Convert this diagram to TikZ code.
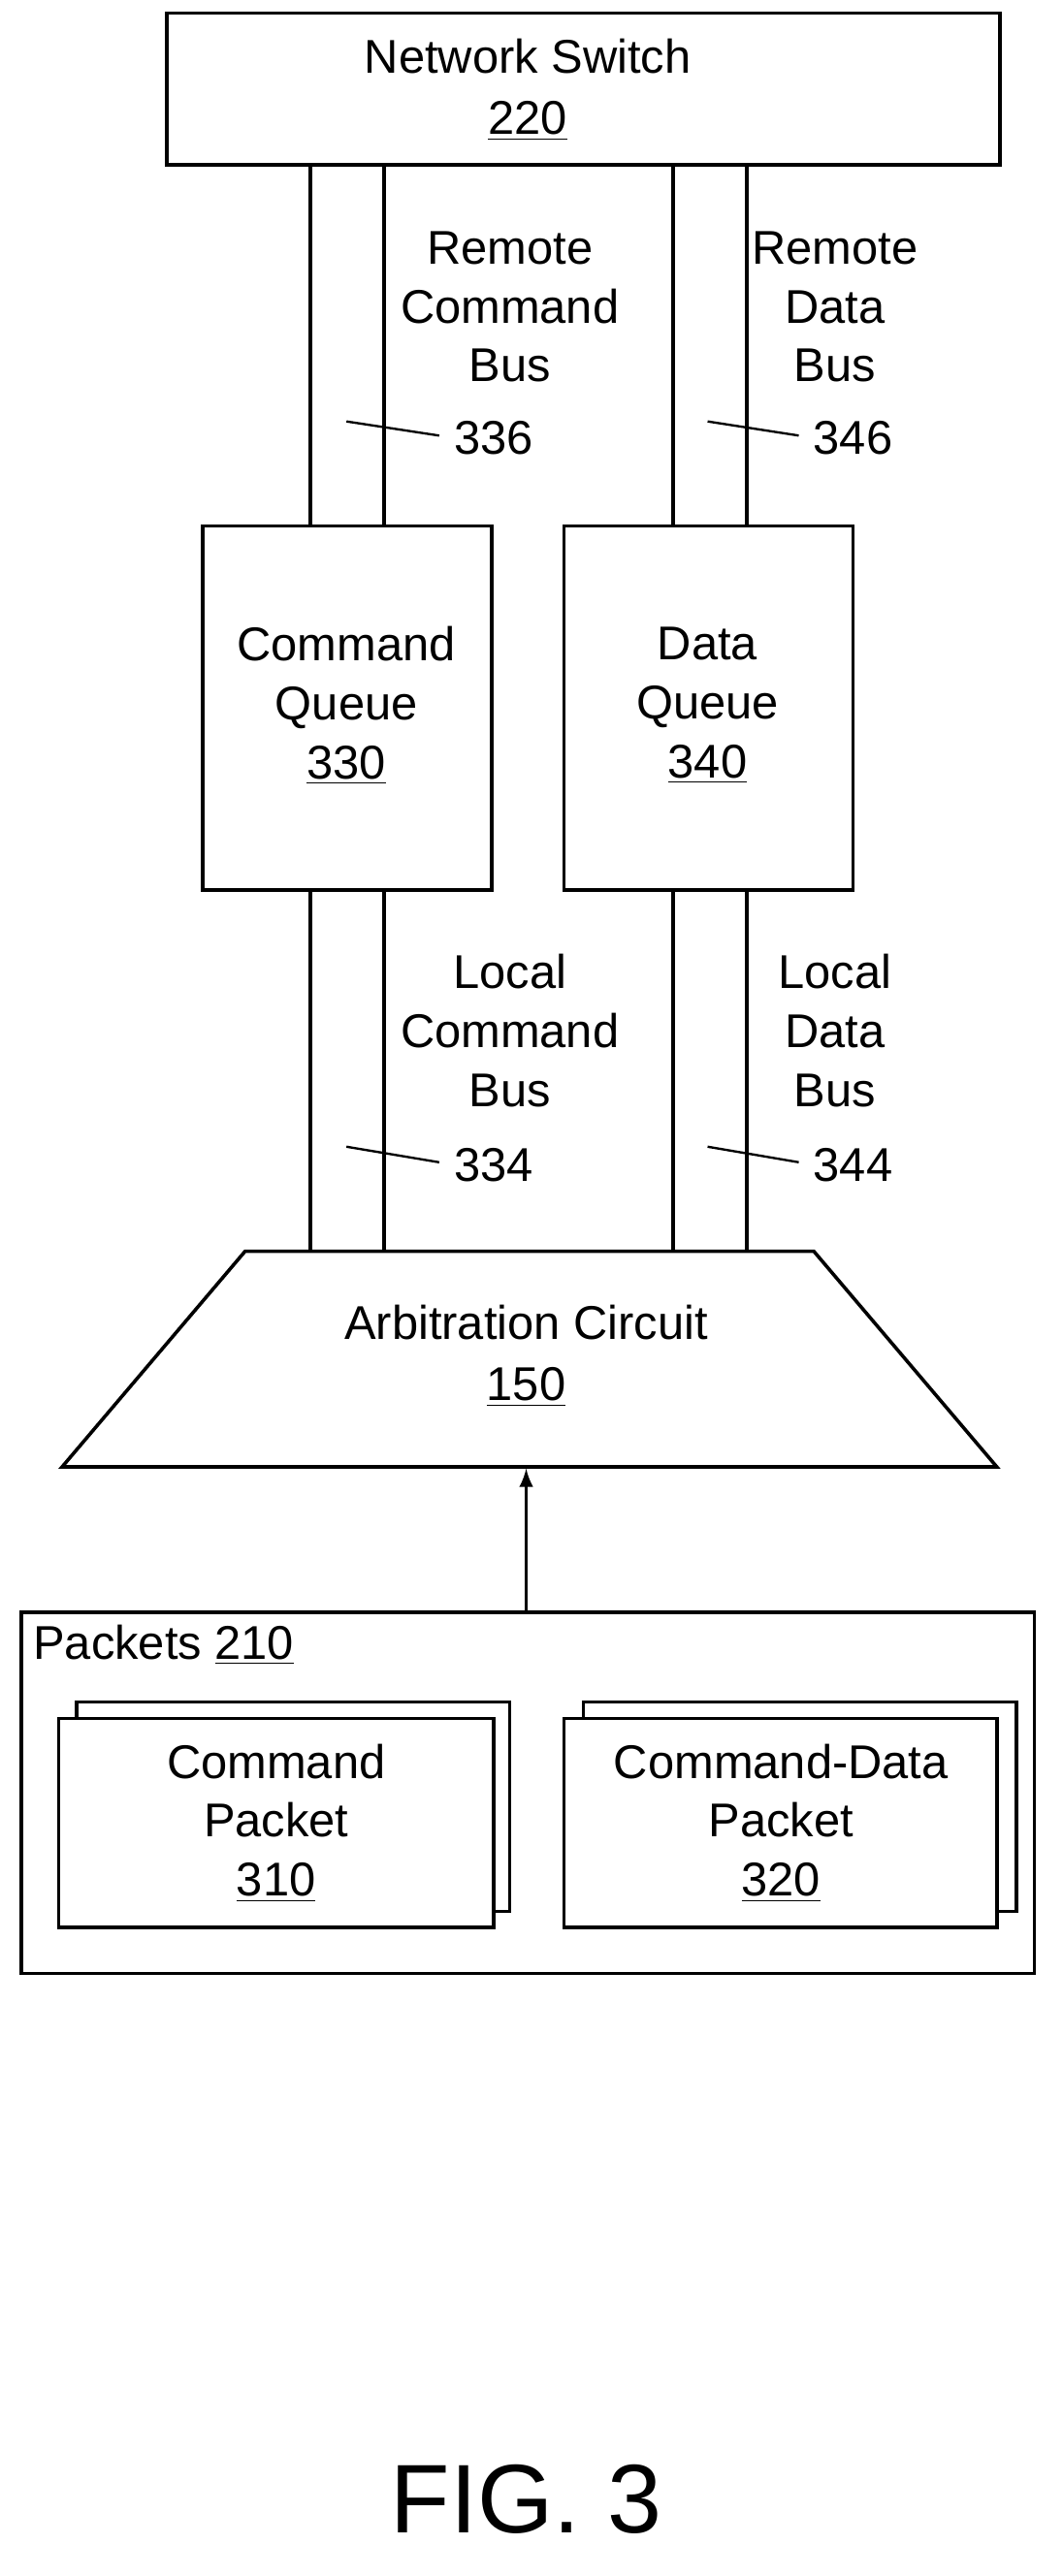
\documentclass[tikz,border=0pt]{standalone}
\usepackage{fontspec}
\setmainfont{Liberation Sans}
\begin{document}
\begin{tikzpicture}[x=0.02cm,y=-0.02cm,
    box/.style={draw,line width=1.2pt},
    lbl/.style={font=\fontsize{16.5}{20.5}\selectfont,align=center,inner sep=0pt},
    bus/.style={line width=1.2pt},
    lead/.style={line width=0.8pt,shorten >=5pt}]

      \useasboundingbox (0,0) rectangle (650,1577);

      % network switch
      \draw[box] (102,8) rectangle (612,101);
      \node[lbl] (sw) at (323,55) {Network Switch\\[1pt]\underline{220}};

      % queues
      \draw[box] (124,322) rectangle (301,545);
      \draw[box] (345,322) rectangle (522,545);
      \node[lbl] (cq) at (212,432) {Command\\Queue\\\underline{330}};
      \node[lbl] (dq) at (433,432) {Data\\Queue\\\underline{340}};

      % remote buses
      \draw[bus] (190,101) -- (190,322);
      \draw[bus] (235,101) -- (235,322);
      \draw[bus] (412,101) -- (412,322);
      \draw[bus] (457,101) -- (457,322);
      \node[lbl] (rcb) at (312,188) {Remote\\Command\\Bus};
      \node[lbl] (rdb) at (511,188) {Remote\\Data\\Bus};
      \node[lbl] (n336) at (302,268) {336};
      \node[lbl] (n346) at (522,268) {346};
      \draw[lead] (212,258) -- (n336.west);
      \draw[lead] (433,258) -- (n346.west);

      % local buses
      \draw[bus] (190,545) -- (190,766);
      \draw[bus] (235,545) -- (235,766);
      \draw[bus] (412,545) -- (412,766);
      \draw[bus] (457,545) -- (457,766);
      \node[lbl] (lcb) at (312,631) {Local\\Command\\Bus};
      \node[lbl] (ldb) at (511,631) {Local\\Data\\Bus};
      \node[lbl] (n334) at (302,713) {334};
      \node[lbl] (n344) at (522,713) {344};
      \draw[lead] (212,702) -- (n334.west);
      \draw[lead] (433,702) -- (n344.west);

      % arbitration circuit
      \draw[box] (150,766) -- (498,766) -- (610,898) -- (38,898) -- cycle;
      \node[lbl] (arb) at (322,830) {Arbitration Circuit\\[1pt]\underline{150}};

      % packets
      \draw[box] (13,987) rectangle (633,1208);
      \node[lbl,anchor=west] (pk) at (20,1007) {Packets \underline{210}};
      \coordinate (pktop) at (322,987);
      \coordinate (arbbot) at (322,899);
      \draw[line width=1.2pt,-{latex[scale=1.6]}] (pktop) -- (arbbot);

      \draw[box] (47,1042) rectangle (312,1170);
      \draw[box,fill=white] (36,1052) rectangle (302,1180);
      \node[lbl] (cp) at (169,1116) {Command\\Packet\\\underline{310}};
      \draw[box] (357,1042) rectangle (622,1170);
      \draw[box,fill=white] (345,1052) rectangle (610,1180);
      \node[lbl] (cdp) at (478,1116) {Command-Data\\Packet\\\underline{320}};

      \node[font=\fontsize{34}{40}\selectfont] (fig) at (322,1530) {FIG. 3};

    \end{tikzpicture}
\end{document}
